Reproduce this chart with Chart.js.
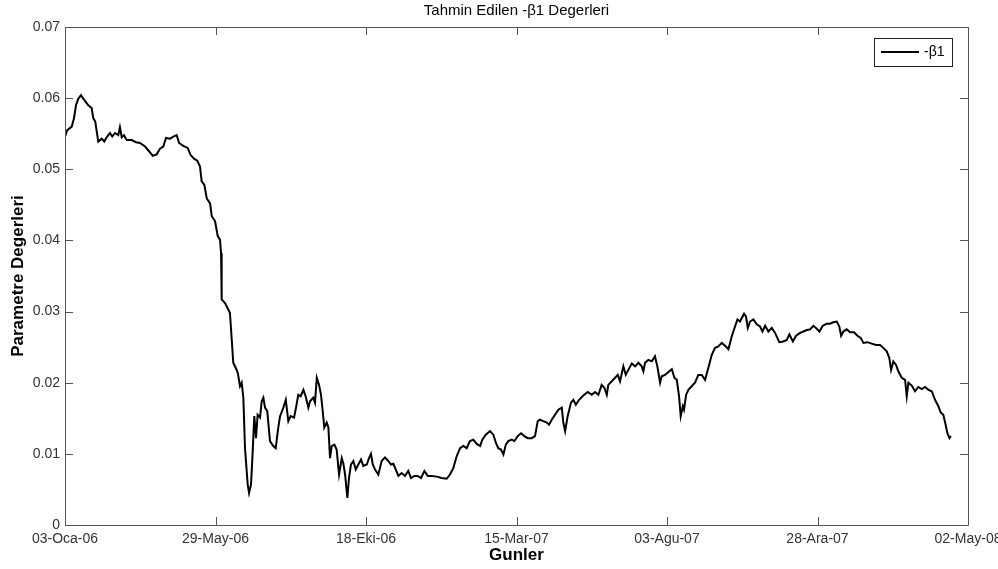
<!DOCTYPE html>
<html>
<head>
<meta charset="utf-8">
<script src="https://cdn.jsdelivr.net/npm/chart.js@4"></script>
<style>
  html, body { margin: 0; padding: 0; background: #fff; }
  canvas { display: block; }
</style>
</head>
<body>
<canvas id="chart" width="998" height="569"></canvas>
<script>
// trading day index since 03-Oca-06 and estimated -beta1 values
const days = [
  0, 1.5, 4.5, 6, 7.3, 8.8, 10.6, 12.6, 15.5, 17.7,
  18.8, 20.1, 21.1, 22.1, 24.4, 26.1, 27.7, 29.9, 31.4, 33.2,
  35.4, 36.5, 37.7, 39.2, 41, 44.3, 47.2, 49.8, 53.2, 56,
  58.3, 60.9, 63.1, 65.3, 67.1, 69.8, 72, 74.2, 75.8, 78.6,
  81.5, 83.5, 85.7, 87.9, 89.7, 90.8, 92.6, 94.2, 96.4, 97.5,
  99.7, 101.5, 103, 103.7, 104.1, 106.3, 108.5, 109.6, 110.8, 111.8,
  113.4, 114.8, 116.3, 117.4, 118.5, 119.6, 121.4, 122.3, 123.6, 124.5,
  125.8, 126.9, 128, 129.6, 130.7, 131.8, 132.9, 134.4, 136.2, 138.4,
  140, 141.7, 142.9, 145.1, 146.7, 148.4, 150, 152.2, 153.5, 155,
  156.6, 158.4, 159.9, 161.7, 162.8, 165, 166.1, 167.3, 168.8, 170.1,
  171, 172.3, 173.9, 175, 176.1, 177.2, 179, 180.5, 182.1, 183.9,
  184.9, 186.1, 187.6, 188.7, 190, 191.6, 193.2, 194.9, 196.7, 198.2,
  200.5, 202, 203.3, 204.5, 206, 208.2, 210.4, 212.6, 214.8, 216.6,
  218.2, 221.5, 223.7, 225.9, 228.1, 229.9, 232.1, 234.4, 236.6, 238.8,
  241, 243.7, 247, 250.3, 253.6, 255.8, 258, 260.3, 262.5, 264.7,
  266.9, 269.1, 271.3, 273.6, 275.8, 277.3, 279.6, 282.4, 284.6, 286.4,
  287.9, 289.7, 291.3, 292.9, 294.6, 296.8, 298.6, 300.8, 303, 305.2,
  307.5, 310.1, 312.3, 314.1, 315.6, 317.8, 320.1, 321.6, 323.4, 325.6,
  327.8, 330.1, 331.1, 332.3, 334, 336.2, 337.8, 339.4, 341.6, 344.4,
  347.3, 350, 352.2, 354.4, 356.6, 358.4, 360, 361, 363.3, 365.5,
  367.3, 368.8, 371, 372.6, 374.3, 376.6, 378.8, 381, 383.2, 384.3,
  385.4, 387.6, 389.9, 392, 393.6, 395.4, 396.5, 398.7, 400.9, 403.2,
  404.9, 406.5, 408, 409.1, 410.5, 411.3, 412.7, 414.2, 416.4, 418.6,
  420.8, 423.1, 425.3, 427.5, 429.7, 431.9, 434.1, 436.4, 438.6, 440.8,
  443, 445.2, 446.8, 448.5, 449.7, 451.2, 452.5, 453.7, 455.2, 457.4,
  459.6, 461.8, 463.4, 465.2, 467.3, 469.6, 471.8, 474.6, 477.3, 479.6,
  481.3, 483.6, 485.8, 488.4, 490.6, 492.9, 495, 497.3, 499, 501.3,
  503.5, 506.2, 508.3, 510.5, 512.8, 514.5, 515.7, 517.2, 519.4, 521.6,
  524.3, 526.5, 528.7, 530.5, 533.1, 536, 538.9, 541.6, 543.7, 546,
  547.7, 548.9, 550.4, 552.2, 553.7, 556, 558.2, 559.3, 560.4, 562.6,
  564.8, 567, 569.3, 571.5, 573.7, 575.9, 578.1, 580.3, 581.9, 583.6,
  584.8, 586.3, 587.7, 588.6
];
const beta = [
  .0546, .0555, .0560, .0572, .0590, .0599, .0604, .0598, .0590, .0586,
  .0572, .0567, .0553, .0539, .0543, .0539, .0545, .0551, .0546, .0551,
  .0548, .0559, .0545, .0548, .0541, .0541, .0538, .0537, .0532, .0525,
  .0519, .0521, .0529, .0532, .0544, .0543, .0546, .0548, .0537, .0533,
  .0530, .0520, .0515, .0512, .0504, .0483, .0478, .0459, .0452, .0434,
  .0427, .0406, .0401, .0382, .0317, .0312, .0303, .0298, .0260, .0228,
  .0221, .0214, .0195, .0200, .0179, .0108, .0057, .0045, .0057, .0094,
  .0153, .0122, .0155, .0151, .0174, .0179, .0165, .0160, .0118, .0111,
  .0108, .0137, .0153, .0165, .0176, .0146, .0153, .0151, .0165, .0183,
  .0181, .0190, .0181, .0165, .0174, .0179, .0172, .0207, .0197, .0183,
  .0165, .0137, .0144, .0137, .0094, .0111, .0113, .0106, .0071, .0094,
  .0087, .0071, .0038, .0066, .0085, .0090, .0078, .0085, .0092, .0083,
  .0085, .0094, .0100, .0085, .0078, .0071, .0090, .0095, .0090, .0085,
  .0086, .0069, .0073, .0069, .0076, .0066, .0069, .0069, .0066, .0076,
  .0069, .0069, .0068, .0066, .0065, .0071, .0080, .0097, .0108, .0111,
  .0108, .0118, .0120, .0114, .0111, .0120, .0127, .0132, .0127, .0115,
  .0108, .0106, .0099, .0113, .0118, .0120, .0118, .0125, .0129, .0125,
  .0122, .0122, .0125, .0146, .0148, .0146, .0144, .0141, .0148, .0155,
  .0162, .0165, .0144, .0132, .0153, .0172, .0176, .0169, .0176, .0182,
  .0187, .0183, .0187, .0183, .0197, .0193, .0183, .0197, .0202, .0207,
  .0211, .0202, .0223, .0211, .0218, .0227, .0223, .0228, .0223, .0216,
  .0228, .0232, .0230, .0237, .0223, .0200, .0209, .0211, .0215, .0219,
  .0207, .0204, .0181, .0153, .0167, .0162, .0183, .0190, .0195, .0200,
  .0211, .0211, .0204, .0221, .0239, .0249, .0251, .0256, .0252, .0247,
  .0265, .0279, .0289, .0286, .0291, .0297, .0293, .0277, .0286, .0289,
  .0282, .0279, .0272, .0280, .0272, .0277, .0270, .0257, .0258, .0260,
  .0268, .0258, .0266, .0270, .0272, .0274, .0275, .0280, .0277, .0272,
  .0280, .0283, .0283, .0285, .0286, .0279, .0266, .0272, .0275, .0271,
  .0271, .0266, .0263, .0256, .0257, .0255, .0253, .0253, .0249, .0244,
  .0235, .0218, .0230, .0225, .0216, .0207, .0204, .0181, .0200, .0196,
  .0188, .0194, .0191, .0194, .0190, .0188, .0176, .0167, .0158, .0155,
  .0144, .0129, .0122, .0125
];
const tickLabels = ['03-Oca-06', '29-May-06', '18-Eki-06', '15-Mar-07', '03-Agu-07', '28-Ara-07', '02-May-08'];
const yTicks = [0, 0.01, 0.02, 0.03, 0.04, 0.05, 0.06, 0.07];

const FONT = '"Liberation Sans", Arial, Helvetica, sans-serif';
const points = days.map((d, i) => ({ x: d, y: beta[i] }));

// matlab style box, inward ticks on all sides, title and legend
const matlabAxes = {
    id: 'matlabAxes',
    afterDraw(chart) {
        const { ctx, chartArea: a, scales } = chart;
        const tl = 8;
        ctx.save();
        ctx.strokeStyle = '#555';
        ctx.lineWidth = 1;
        ctx.beginPath();
        ctx.rect(a.left + 0.5, a.top + 0.5, a.right - a.left, a.bottom - a.top);
        for (let i = 0; i < tickLabels.length; i++) {
            const x = Math.round(scales.x.getPixelForValue(i * 100)) + 0.5;
            ctx.moveTo(x, a.bottom);
            ctx.lineTo(x, a.bottom - tl);
            ctx.moveTo(x, a.top);
            ctx.lineTo(x, a.top + tl);
        }
        yTicks.forEach(v => {
            const y = Math.round(scales.y.getPixelForValue(v)) + 0.5;
            ctx.moveTo(a.left, y);
            ctx.lineTo(a.left + tl, y);
            ctx.moveTo(a.right, y);
            ctx.lineTo(a.right - tl, y);
        });
        ctx.stroke();

        // title
        ctx.fillStyle = '#000';
        ctx.font = '15px ' + FONT;
        ctx.textAlign = 'center';
        ctx.textBaseline = 'middle';
        ctx.fillText('Tahmin Edilen -\u03b21 Degerleri', (a.left + a.right) / 2, 11);

        // legend
        const bx = a.right - 94, by = a.top + 11, bw = 78, bh = 28;
        ctx.fillStyle = '#fff';
        ctx.fillRect(bx, by, bw, bh);
        ctx.strokeStyle = '#222';
        ctx.strokeRect(bx + 0.5, by + 0.5, bw, bh);
        ctx.strokeStyle = '#000';
        ctx.lineWidth = 2;
        ctx.beginPath();
        ctx.moveTo(bx + 7, by + 14);
        ctx.lineTo(bx + 45, by + 14);
        ctx.stroke();
        ctx.fillStyle = '#000';
        ctx.font = '14px ' + FONT;
        ctx.textAlign = 'left';
        ctx.fillText(chart.data.datasets[0].label, bx + 50, by + 14.5);
        ctx.restore();
    }
};

const ctx = document.getElementById('chart').getContext('2d');
const chart = new Chart(ctx, {
    type: 'line',
    data: {
        datasets: [{
            label: '-\u03b21',
            data: points,
            borderColor: '#000',
            borderWidth: 2,
            pointRadius: 0,
            tension: 0,
            fill: false
        }]
    },
    options: {
        responsive: false,
        animation: false,
        layout: { padding: { top: 27, right: 30, left: 0, bottom: 0 } },
        plugins: {
            legend: { display: false },
            title: { display: false },
            tooltip: { enabled: false }
        },
        scales: {
            x: {
                type: 'linear',
                min: 0,
                max: 600,
                border: { display: false },
                grid: { display: false, drawTicks: false },
                ticks: {
                    stepSize: 100,
                    padding: 6,
                    maxRotation: 0,
                    color: '#333',
                    font: { family: FONT, size: 14 },
                    callback: v => tickLabels[Math.round(v / 100)]
                },
                title: {
                    display: true,
                    text: 'Gunler',
                    color: '#000',
                    font: { family: FONT, size: 17, weight: 'bold' },
                    padding: { top: 0, bottom: 3 }
                },
                afterFit(scale) {
                    scale.height = 44;
                    scale.paddingLeft = 0;
                    scale.paddingRight = 0;
                }
            },
            y: {
                min: 0,
                max: 0.07,
                border: { display: false },
                grid: { display: false, drawTicks: false },
                ticks: {
                    stepSize: 0.01,
                    padding: 5,
                    color: '#333',
                    font: { family: FONT, size: 14 },
                    callback: v => v === 0 ? '0' : v.toFixed(2)
                },
                title: {
                    display: true,
                    text: 'Parametre Degerleri',
                    color: '#000',
                    font: { family: FONT, size: 17, weight: 'bold' },
                    padding: { top: 8, bottom: 0 }
                },
                afterFit(scale) {
                    scale.width = 65;
                    scale.paddingTop = 0;
                    scale.paddingBottom = 0;
                }
            }
        }
    },
    plugins: [matlabAxes]
});
</script>
</body>
</html>
